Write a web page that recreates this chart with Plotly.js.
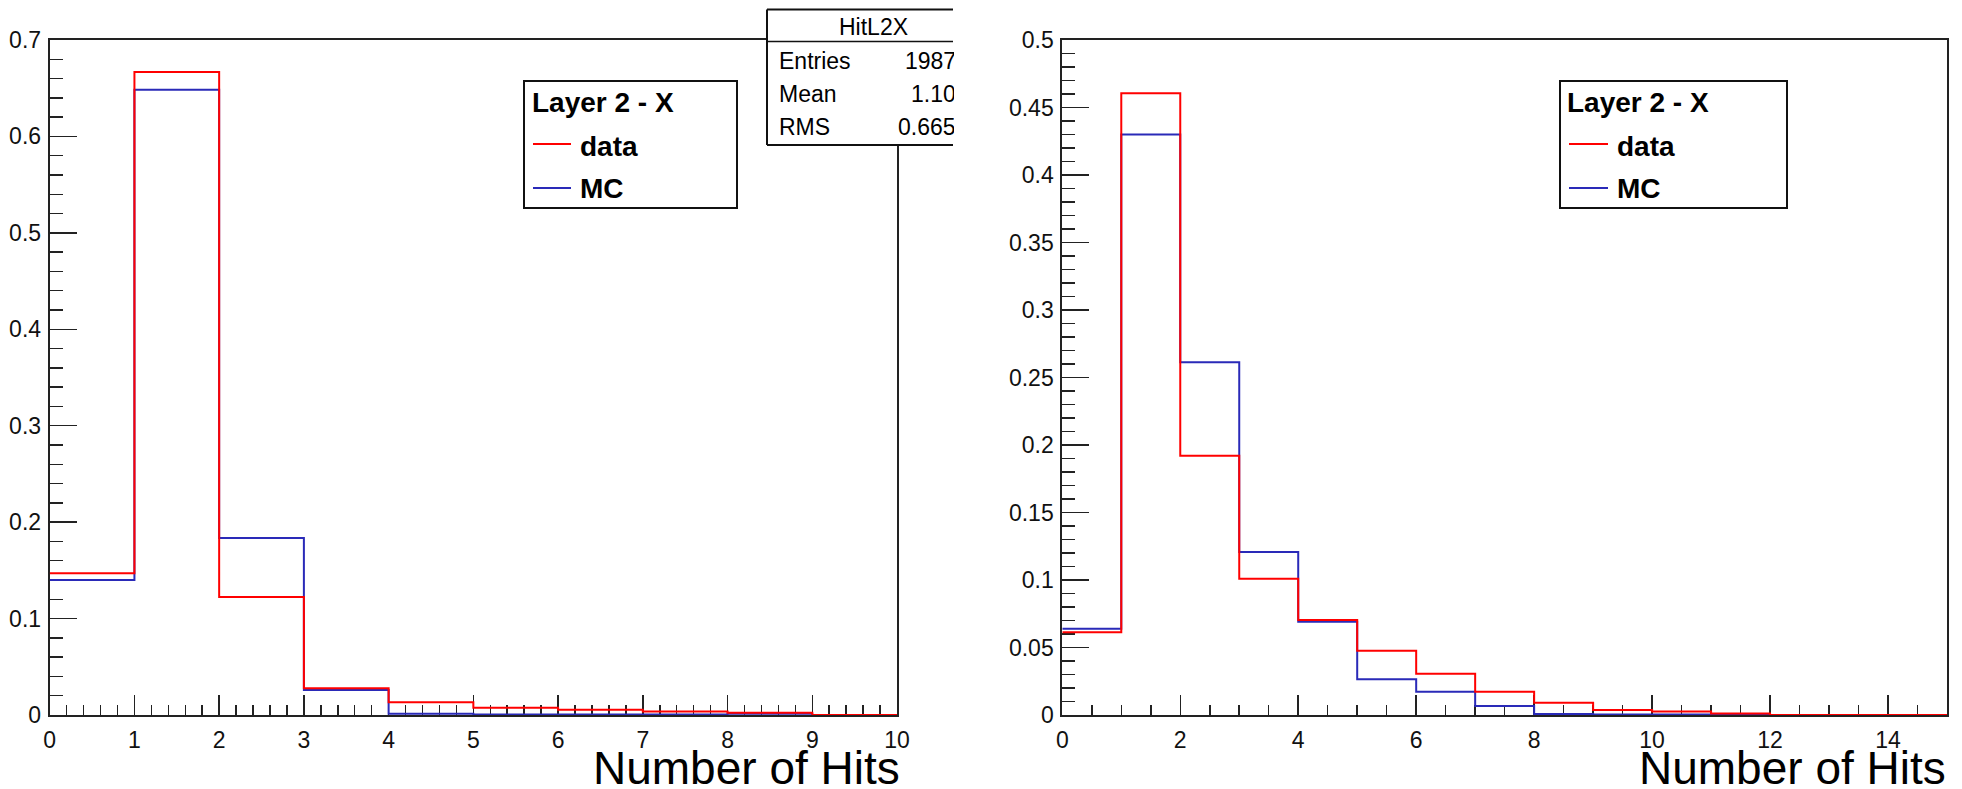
<!DOCTYPE html>
<html>
<head>
<meta charset="utf-8">
<script src="https://cdn.plot.ly/plotly-3.0.1.min.js"></script>
<style>
  html, body { margin: 0; padding: 0; background: #ffffff; }
  #chart { width: 1962px; height: 789px; }
</style>
</head>
<body>
<div id="chart"></div>
<script>
// ---------------- data ----------------
const binEdgesLeft = [0, 1, 2, 3, 4, 5, 6, 7, 8, 9, 10];
const dataLeft = [0.147, 0.6667, 0.1224, 0.0277, 0.0132, 0.0075, 0.0054, 0.0036, 0.0023, 0.0];
const mcLeft   = [0.140, 0.6483, 0.1836, 0.0259, 0.0012, 0.0005, 0.0005, 0.0004, 0.0012, 0.0];

const binEdgesRight = [0, 1, 2, 3, 4, 5, 6, 7, 8, 9, 10, 11, 12, 13, 14, 15];
const dataRight = [0.0613, 0.4605, 0.192, 0.101, 0.0704, 0.0476, 0.0306, 0.0173, 0.0090, 0.0037, 0.0026, 0.0012, 0, 0, 0];
const mcRight   = [0.0639, 0.430, 0.2613, 0.1207, 0.0691, 0.0264, 0.0173, 0.0066, 0.0007, 0.0004, 0.0003, 0.0004, 0, 0, 0];

const legendTitle = "Layer 2 - X";
const seriesNames = ["data", "MC"];
const xTitle = "Number of Hits";
const statsTitle = "HitL2X";
const statsLabels = ["Entries", "Mean", "RMS"];
const statsValues = ["1987", "1.10", "0.665"];

// ---------------- helpers ----------------
const W = 1962, H = 789;
const px = v => v / W;
const py = v => 1 - v / H;
const RED = "#ff0000", BLUE = "#2a2ab8", AX = "#222222";
const FONT = "Liberation Sans, Arial, Helvetica, sans-serif";

function stepTrace(edges, vals, color, xa, ya, name) {
  return {
    type: "scatter", mode: "lines", name: name,
    x: edges, y: vals.concat([vals[vals.length - 1]]),
    line: { shape: "hv", color: color, width: 2 },
    xaxis: xa, yaxis: ya, showlegend: false, hoverinfo: "x+y"
  };
}

const traces = [
  stepTrace(binEdgesLeft, mcLeft, BLUE, "x", "y", seriesNames[1]),
  stepTrace(binEdgesLeft, dataLeft, RED, "x", "y", seriesNames[0]),
  stepTrace(binEdgesRight, mcRight, BLUE, "x2", "y2", seriesNames[1]),
  stepTrace(binEdgesRight, dataRight, RED, "x2", "y2", seriesNames[0])
];

const yDom = [py(715), py(40)];

function xAxis(domain, range, dtick, minor, anchor) {
  return {
    domain: domain, range: range, anchor: anchor,
    dtick: dtick, tick0: 0,
    ticks: "inside", ticklen: 20, tickwidth: 1.5, tickcolor: AX,
    minor: { dtick: minor, ticks: "inside", ticklen: 10, tickwidth: 1.5, tickcolor: AX, showgrid: false },
    showline: true, mirror: true, linecolor: AX, linewidth: 2,
    showgrid: false, zeroline: false, layer: "below traces",
    tickfont: { family: FONT, size: 23, color: "#111" },
    ticklabelstandoff: 3, fixedrange: true
  };
}
function yAxis(range, dtick, minor, anchor) {
  return {
    domain: yDom, range: range, anchor: anchor,
    dtick: dtick, tick0: 0,
    ticks: "inside", ticklen: 27, tickwidth: 1.5, tickcolor: AX,
    minor: { dtick: minor, ticks: "inside", ticklen: 13, tickwidth: 1.5, tickcolor: AX, showgrid: false },
    showline: true, mirror: true, linecolor: AX, linewidth: 2,
    showgrid: false, zeroline: false, layer: "below traces",
    tickfont: { family: FONT, size: 23, color: "#111" },
    ticklabelstandoff: 2, fixedrange: true
  };
}

const shapes = [];
const annotations = [];

function line(x0, y0, x1, y1, color, width) {
  shapes.push({ type: "line", xref: "paper", yref: "paper",
    x0: px(x0), y0: py(y0), x1: px(x1), y1: py(y1),
    line: { color: color, width: width }, layer: "above" });
}
function rect(x0, y0, x1, y1) {
  shapes.push({ type: "rect", xref: "paper", yref: "paper",
    x0: px(x0), y0: py(y0), x1: px(x1), y1: py(y1),
    line: { color: "#111", width: 2 }, fillcolor: "#ffffff", layer: "above" });
}
function text(t, x, y, xanchor, size, bold) {
  annotations.push({ xref: "paper", yref: "paper", x: px(x), y: py(y),
    xanchor: xanchor, yanchor: "middle", showarrow: false,
    text: bold ? "<b>" + t + "</b>" : t,
    font: { family: FONT, size: size, color: "#000" } });
}

// legends
function legendBox(x0, y0, x1, y1, tx, lx0, lx1) {
  rect(x0, y0, x1, y1);
  text(legendTitle, tx, y0 + 21, "left", 28, true);
  line(lx0, y0 + 63, lx1, y0 + 63, RED, 2);
  text(seriesNames[0], lx1 + 7, y0 + 65, "left", 28, true);
  line(lx0, y0 + 107, lx1, y0 + 107, BLUE, 2);
  text(seriesNames[1], lx1 + 7, y0 + 108, "left", 28, true);
}
legendBox(524, 81, 737, 208, 530, 533, 571);
legendBox(1560, 81, 1787, 208, 1565, 1569, 1608);

// stats box (clipped at the panel edge, like the reference)
const CLIP = 953;
shapes.push({ type: "rect", xref: "paper", yref: "paper",
  x0: px(767), y0: py(145), x1: px(CLIP), y1: py(9.5),
  line: { width: 0 }, fillcolor: "#ffffff", layer: "above" });
line(767, 9.5, CLIP, 9.5, "#111", 2);
line(767, 145, CLIP, 145, "#111", 2);
line(767, 9.5, 767, 145, "#111", 2);
line(767, 41.5, CLIP, 41.5, "#111", 1.5);
text(statsTitle, 873, 27, "center", 23, false);
for (let i = 0; i < statsLabels.length; i++) {
  text(statsLabels[i], 777, 61 + i * 33, "left", 23, false);
  text(statsValues[i], 958, 61 + i * 33, "right", 23, false);
}
// white mask that clips the stats values at the panel edge
annotations.push({ xref: "paper", yref: "paper", x: px(CLIP + 1), y: py(8),
  xanchor: "left", yanchor: "top", showarrow: false, text: " ",
  width: 30, height: 140, bgcolor: "#ffffff", borderpad: 0, borderwidth: 0,
  font: { family: FONT, size: 10, color: "#ffffff" } });

// axis titles (ROOT style: right aligned under the axis)
text(xTitle, 902, 768, "right", 46, false);
text(xTitle, 1948, 768, "right", 46, false);

const layout = {
  width: W, height: H,
  margin: { l: 0, r: 0, t: 0, b: 0, pad: 0 },
  paper_bgcolor: "#ffffff", plot_bgcolor: "#ffffff",
  showlegend: false,
  xaxis: xAxis([px(49.7), px(897)], [0, 10], 1, 0.2, "y"),
  yaxis: yAxis([0, 0.7], 0.1, 0.02, "x"),
  xaxis2: xAxis([px(1062.3), px(1947)], [0, 15], 2, 0.5, "y2"),
  yaxis2: yAxis([0, 0.5], 0.05, 0.01, "x2"),
  shapes: shapes,
  annotations: annotations,
  font: { family: FONT }
};

Plotly.newPlot("chart", traces, layout, { displayModeBar: false, staticPlot: true });
</script>
</body>
</html>
